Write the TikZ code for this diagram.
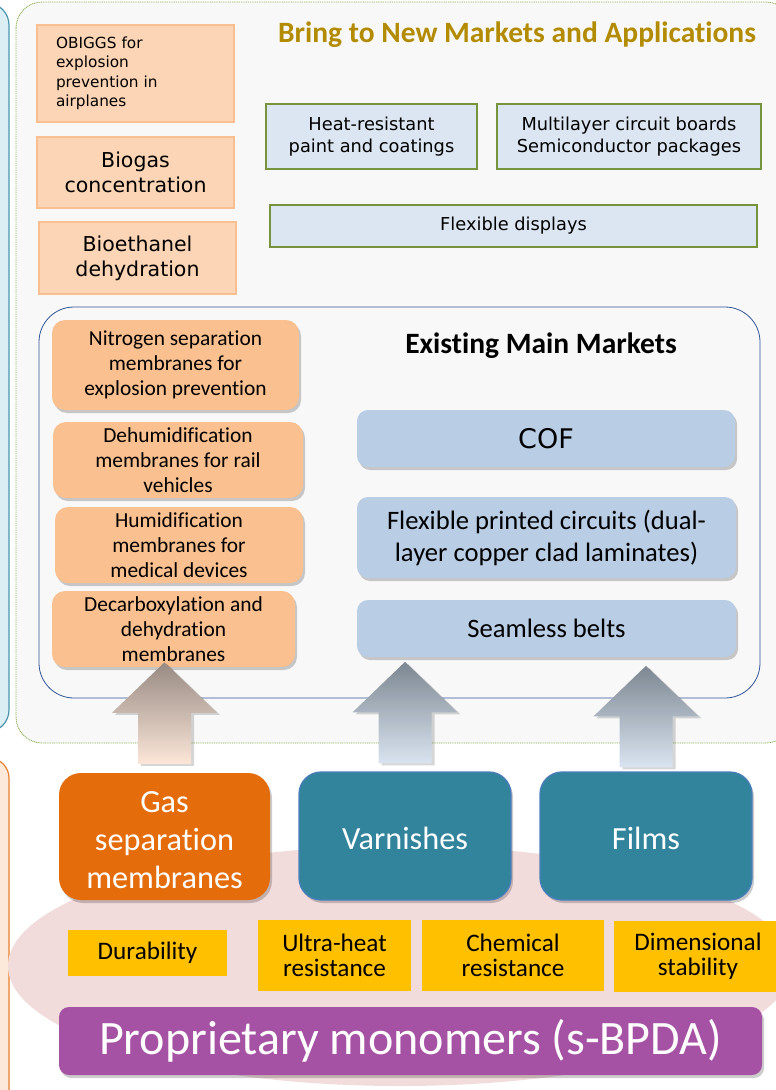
\documentclass[tikz,border=0pt]{standalone}
\usepackage{fontspec}
\setmainfont{Carlito}[Ligatures=NoCommon]
\newfontfamily\vfont{DejaVu Sans}
\usetikzlibrary{shadows}

\definecolor{bluepanel}{HTML}{DAEEF3}
\definecolor{bluepaneledge}{HTML}{4A96B0}
\definecolor{orpanel}{HTML}{FDE9D9}
\definecolor{orpaneledge}{HTML}{E8812F}
\definecolor{panelbg}{HTML}{F8F8F8}
\definecolor{paneledge}{HTML}{8DB255}
\definecolor{titlegold}{HTML}{B38B00}
\definecolor{newor}{HTML}{FBD5B5}
\definecolor{neworedge}{HTML}{F9BF91}
\definecolor{newbl}{HTML}{DCE6F2}
\definecolor{newbledge}{HTML}{77933C}
\definecolor{inneredge}{HTML}{2F5597}
\definecolor{memor}{HTML}{FAC090}
\definecolor{mktbl}{HTML}{B9CDE5}
\definecolor{gasor}{HTML}{E46C0A}
\definecolor{procteal}{HTML}{31849B}
\definecolor{tealedge}{HTML}{4A7EBB}
\definecolor{yel}{HTML}{FFC000}
\definecolor{purp}{HTML}{A652A4}
\definecolor{pinkbg}{HTML}{F2DCDB}
\definecolor{arrowtopbr}{HTML}{978A83}
\definecolor{arrowbotbr}{HTML}{FCE6D8}
\definecolor{arrowtopbl}{HTML}{7D8792}
\definecolor{arrowbotbl}{HTML}{DAE4F0}

\tikzset{
  softshadow/.style={drop shadow={shadow xshift=2pt, shadow yshift=-3pt, opacity=0.2, fill=black}},
  newbox/.style={draw=neworedge, line width=1.5pt, fill=newor, inner sep=0pt, align=center,
    font=\vfont\fontsize{20.5}{25}\selectfont},
  appbox/.style={draw=newbledge, line width=1.8pt, fill=newbl, inner sep=0pt, align=center,
    font=\vfont\fontsize{17.8}{22}\selectfont},
  membox/.style={fill=memor, rounded corners=13pt, softshadow, inner sep=0pt, align=center,
    font=\fontsize{21.4}{25.2}\selectfont},
  mktbox/.style={fill=mktbl, rounded corners=11pt, softshadow, inner sep=0pt, align=center,
    font=\fontsize{26.6}{32}\selectfont},
  formbox/.style={rounded corners=22pt, inner sep=0pt, align=center, text=white,
    minimum width=212pt, minimum height=128pt, font=\fontsize{32.3}{38}\selectfont},
  formtext/.style={inner sep=0pt, align=center, text=white, font=\fontsize{32.3}{38}\selectfont},
  propbox/.style={fill=yel, inner sep=0pt, align=center, font=\fontsize{25.2}{25}\selectfont},
  pics/uparrow/.style 2 args={code={
    \shade[top color=#1, bottom color=#2, drop shadow={shadow xshift=3pt, shadow yshift=-2pt, opacity=0.16, fill=black}]
      (-26.5,0) -- (26.5,0) -- (26.5,-51) -- (52.5,-51) -- (0,-101.5)
      -- (-52.5,-51) -- (-26.5,-51) -- cycle;
  }}
}

\begin{document}
\begin{tikzpicture}[x=1pt,y=-1pt]
\clip (0,0) rectangle (776,1090);
\fill[white] (0,0) rectangle (776,1090);

% side panels at the left edge
\draw[fill=bluepanel, draw=bluepaneledge, line width=1.2pt, rounded corners=22pt]
  (-60,3) rectangle (9,732);
\draw[fill=orpanel, draw=orpaneledge, line width=1.2pt, rounded corners=20pt]
  (-60,758) rectangle (9,1140);

% new markets panel
\draw[fill=panelbg, draw=paneledge, line width=0.9pt, dash pattern=on 1pt off 0.8pt, rounded corners=26pt]
  (16,2) rectangle (792,743);
\node[font=\bfseries\fontsize{29.5}{32}\selectfont, text=titlegold] (newtitle) at (517,35)
  {Bring to New Markets and Applications};

\node[newbox, minimum width=197pt, minimum height=97pt, text width=159pt, align=left,
      font=\vfont\fontsize{15.3}{19.5}\selectfont] (obiggs) at (135.5,73.5)
  {OBIGGS for\\explosion\\prevention in\\airplanes};
\node[newbox, minimum width=197pt, minimum height=71pt] (biogas) at (135.5,172.5)
  {Biogas\\concentration};
\node[newbox, minimum width=197pt, minimum height=72pt] (bioeth) at (137.5,258)
  {Bioethanel\\dehydration};

\node[appbox, minimum width=211pt, minimum height=65pt] (paint) at (371.5,136.5)
  {Heat-resistant\\paint and coatings};
\node[appbox, minimum width=264pt, minimum height=65pt] (boards) at (629,136.5)
  {Multilayer circuit boards\\Semiconductor packages};
\node[appbox, minimum width=487pt, minimum height=42pt] (displays) at (513.5,226)
  {Flexible displays};

% existing markets panel
\draw[fill=panelbg, draw=inneredge, line width=0.8pt, rounded corners=35pt]
  (39,307) rectangle (760,698);
\node[font=\bfseries\fontsize{29.5}{32}\selectfont] (existtitle) at (541,346)
  {Existing Main Markets};

\node[membox, minimum width=247pt, minimum height=90pt] (nitrogen) at (175.5,365)
  {Nitrogen separation\\membranes for\\explosion prevention};
\node[membox, minimum width=250pt, minimum height=76pt] (dehum) at (178,460)
  {Dehumidification\\membranes for rail\\vehicles};
\node[membox, minimum width=248pt, minimum height=76pt] (hum) at (179,545)
  {Humidification\\membranes for\\medical devices};
\node[membox, minimum width=243pt, minimum height=76pt] (decarb) at (173.5,629)
  {Decarboxylation and\\dehydration\\membranes};

\node[mktbox, minimum width=378pt, minimum height=57pt, font=\vfont\fontsize{27}{30}\selectfont] (cof) at (546,438.5)
  {COF};
\node[mktbox, minimum width=379pt, minimum height=81pt] (fpc) at (546.5,537.5)
  {Flexible printed circuits (dual-\\layer copper clad laminates)};
\node[mktbox, minimum width=379pt, minimum height=57pt] (belts) at (546.5,628.5)
  {Seamless belts};

% base layer
\fill[pinkbg] (400,966) ellipse [x radius=392, y radius=120];

\node[formbox, fill=gasor, minimum width=211pt, minimum height=127pt, softshadow] (gas) at (164.5,836.5) {};
\node[formtext] (gaslabel) at ([yshift=-3.5pt]gas.center) {Gas\\separation\\membranes};
\node[formbox, fill=procteal, draw=tealedge, line width=1.3pt, softshadow] (varnish) at (405,836) {};
\node[formtext] (varnishlabel) at ([yshift=-2pt]varnish.center) {Varnishes};
\node[formbox, fill=procteal, draw=tealedge, line width=1.3pt, softshadow] (films) at (646,836) {};
\node[formtext] (filmslabel) at ([yshift=-2pt]films.center) {Films};

% arrows from the product forms up to the markets
\pic at ([yshift=9pt]gas.north) {uparrow={arrowtopbr}{arrowbotbr}};
\pic at ([yshift=8pt]varnish.north) {uparrow={arrowtopbl}{arrowbotbl}};
\pic at ([yshift=4pt]films.north) {uparrow={arrowtopbl}{arrowbotbl}};

\node[propbox, minimum width=159pt, minimum height=46pt] (durab) at (147.5,953)
  {Durability};
\node[propbox, minimum width=153pt, minimum height=71pt] (heat) at (334.5,955.5)
  {Ultra-heat\\resistance};
\node[propbox, minimum width=182pt, minimum height=71pt] (chem) at (513,955.5)
  {Chemical\\resistance};
\node[propbox, minimum width=168pt, minimum height=71pt] (dimen) at (698,956.5)
  {Dimensional\\stability};

\node[fill=purp, rounded corners=10pt, softshadow, text=white, inner sep=0pt,
      minimum width=703pt, minimum height=68pt, font=\fontsize{48}{50}\selectfont] (monomers) at (410.5,1041)
  {Proprietary monomers (s-BPDA)};
\end{tikzpicture}
\end{document}
